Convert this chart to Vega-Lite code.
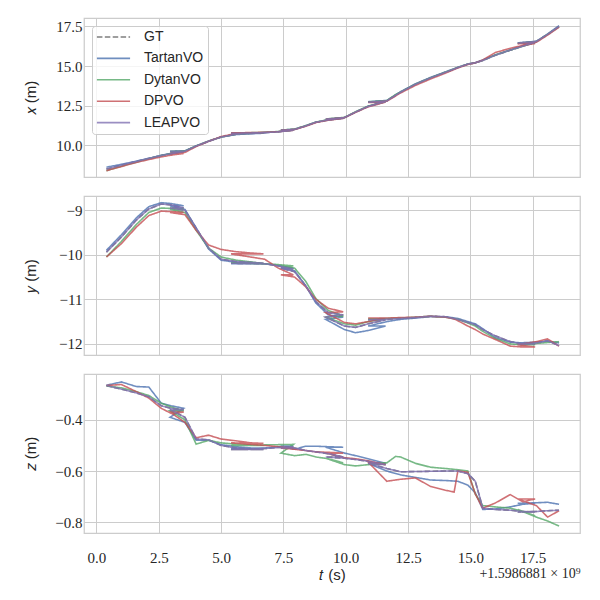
{
  "$schema": "https://vega.github.io/schema/vega-lite/v6.json",
  "padding": {"left": 22, "top": 17, "right": 5, "bottom": 5},
  "background": "white",
  "data": {
    "values": [
      {"m":"GT","t":0.4,"x":8.5,"y":-9.94,"z":-0.266},
      {"m":"GT","t":1.0,"x":8.75,"y":-9.6,"z":-0.28},
      {"m":"GT","t":1.6,"x":8.98,"y":-9.22,"z":-0.295},
      {"m":"GT","t":2.1,"x":9.17,"y":-8.97,"z":-0.31},
      {"m":"GT","t":2.6,"x":9.35,"y":-8.86,"z":-0.345},
      {"m":"GT","t":3.0,"x":9.47,"y":-8.88,"z":-0.355},
      {"m":"GT","t":3.5,"x":9.6,"y":-8.95,"z":-0.36},
      {"m":"GT","t":2.95,"x":9.6,"y":-8.95,"z":-0.36},
      {"m":"GT","t":3.55,"x":9.63,"y":-9.0,"z":-0.39},
      {"m":"GT","t":4.0,"x":9.95,"y":-9.4,"z":-0.475},
      {"m":"GT","t":4.5,"x":10.25,"y":-9.85,"z":-0.478},
      {"m":"GT","t":5.0,"x":10.52,"y":-10.1,"z":-0.5},
      {"m":"GT","t":5.6,"x":10.7,"y":-10.15,"z":-0.51},
      {"m":"GT","t":6.2,"x":10.75,"y":-10.17,"z":-0.514},
      {"m":"GT","t":6.7,"x":10.78,"y":-10.19,"z":-0.516},
      {"m":"GT","t":5.4,"x":10.75,"y":-10.19,"z":-0.516},
      {"m":"GT","t":6.75,"x":10.8,"y":-10.2,"z":-0.512},
      {"m":"GT","t":7.3,"x":10.85,"y":-10.25,"z":-0.508},
      {"m":"GT","t":7.9,"x":10.95,"y":-10.32,"z":-0.505},
      {"m":"GT","t":7.4,"x":10.95,"y":-10.3,"z":-0.51},
      {"m":"GT","t":7.95,"x":11.0,"y":-10.38,"z":-0.51},
      {"m":"GT","t":8.4,"x":11.22,"y":-10.7,"z":-0.52},
      {"m":"GT","t":8.8,"x":11.45,"y":-11.05,"z":-0.525},
      {"m":"GT","t":9.3,"x":11.6,"y":-11.3,"z":-0.532},
      {"m":"GT","t":9.9,"x":11.72,"y":-11.35,"z":-0.545},
      {"m":"GT","t":9.2,"x":11.65,"y":-11.4,"z":-0.545},
      {"m":"GT","t":9.95,"x":11.75,"y":-11.6,"z":-0.55},
      {"m":"GT","t":10.4,"x":12.1,"y":-11.63,"z":-0.555},
      {"m":"GT","t":10.9,"x":12.45,"y":-11.55,"z":-0.562},
      {"m":"GT","t":11.6,"x":12.75,"y":-11.46,"z":-0.575},
      {"m":"GT","t":10.9,"x":12.72,"y":-11.46,"z":-0.57},
      {"m":"GT","t":11.65,"x":12.8,"y":-11.45,"z":-0.59},
      {"m":"GT","t":12.2,"x":13.35,"y":-11.43,"z":-0.603},
      {"m":"GT","t":12.8,"x":13.85,"y":-11.41,"z":-0.602},
      {"m":"GT","t":13.4,"x":14.25,"y":-11.38,"z":-0.601},
      {"m":"GT","t":14.0,"x":14.6,"y":-11.39,"z":-0.6},
      {"m":"GT","t":14.5,"x":14.9,"y":-11.45,"z":-0.6},
      {"m":"GT","t":14.9,"x":15.12,"y":-11.52,"z":-0.61},
      {"m":"GT","t":15.2,"x":15.2,"y":-11.57,"z":-0.64},
      {"m":"GT","t":15.5,"x":15.35,"y":-11.68,"z":-0.745},
      {"m":"GT","t":16.0,"x":15.68,"y":-11.82,"z":-0.75},
      {"m":"GT","t":16.6,"x":16.0,"y":-11.95,"z":-0.753},
      {"m":"GT","t":17.1,"x":16.25,"y":-12.0,"z":-0.758},
      {"m":"GT","t":17.6,"x":16.5,"y":-12.0,"z":-0.76},
      {"m":"GT","t":16.9,"x":16.45,"y":-12.0,"z":-0.76},
      {"m":"GT","t":17.65,"x":16.55,"y":-11.98,"z":-0.758},
      {"m":"GT","t":18.1,"x":17.0,"y":-11.93,"z":-0.755},
      {"m":"GT","t":18.56,"x":17.5,"y":-12.04,"z":-0.753},

      {"m":"TartanVO","t":0.4,"x":8.62,"y":-9.9,"z":-0.265},
      {"m":"TartanVO","t":1.0,"x":8.8,"y":-9.55,"z":-0.252},
      {"m":"TartanVO","t":1.6,"x":9.0,"y":-9.17,"z":-0.27},
      {"m":"TartanVO","t":2.1,"x":9.18,"y":-8.92,"z":-0.272},
      {"m":"TartanVO","t":2.6,"x":9.37,"y":-8.83,"z":-0.335},
      {"m":"TartanVO","t":3.0,"x":9.5,"y":-8.85,"z":-0.345},
      {"m":"TartanVO","t":3.5,"x":9.62,"y":-8.9,"z":-0.355},
      {"m":"TartanVO","t":2.95,"x":9.62,"y":-8.9,"z":-0.39},
      {"m":"TartanVO","t":3.55,"x":9.65,"y":-8.98,"z":-0.41},
      {"m":"TartanVO","t":4.0,"x":9.97,"y":-9.4,"z":-0.48},
      {"m":"TartanVO","t":4.5,"x":10.27,"y":-9.87,"z":-0.48},
      {"m":"TartanVO","t":5.0,"x":10.52,"y":-10.12,"z":-0.497},
      {"m":"TartanVO","t":5.6,"x":10.68,"y":-10.17,"z":-0.505},
      {"m":"TartanVO","t":6.2,"x":10.73,"y":-10.18,"z":-0.51},
      {"m":"TartanVO","t":6.7,"x":10.76,"y":-10.2,"z":-0.512},
      {"m":"TartanVO","t":5.4,"x":10.73,"y":-10.2,"z":-0.512},
      {"m":"TartanVO","t":6.75,"x":10.8,"y":-10.2,"z":-0.51},
      {"m":"TartanVO","t":7.3,"x":10.86,"y":-10.24,"z":-0.505},
      {"m":"TartanVO","t":7.9,"x":10.96,"y":-10.3,"z":-0.502},
      {"m":"TartanVO","t":7.4,"x":10.96,"y":-10.3,"z":-0.502},
      {"m":"TartanVO","t":7.95,"x":11.02,"y":-10.36,"z":-0.515},
      {"m":"TartanVO","t":8.4,"x":11.24,"y":-10.7,"z":-0.503},
      {"m":"TartanVO","t":8.8,"x":11.46,"y":-11.08,"z":-0.503},
      {"m":"TartanVO","t":9.3,"x":11.6,"y":-11.35,"z":-0.505},
      {"m":"TartanVO","t":9.9,"x":11.7,"y":-11.4,"z":-0.507},
      {"m":"TartanVO","t":9.2,"x":11.62,"y":-11.45,"z":-0.507},
      {"m":"TartanVO","t":9.95,"x":11.74,"y":-11.68,"z":-0.53},
      {"m":"TartanVO","t":10.4,"x":12.1,"y":-11.75,"z":-0.54},
      {"m":"TartanVO","t":10.9,"x":12.47,"y":-11.7,"z":-0.552},
      {"m":"TartanVO","t":11.6,"x":12.78,"y":-11.6,"z":-0.57},
      {"m":"TartanVO","t":10.9,"x":12.75,"y":-11.6,"z":-0.57},
      {"m":"TartanVO","t":11.65,"x":12.83,"y":-11.5,"z":-0.6},
      {"m":"TartanVO","t":12.2,"x":13.38,"y":-11.45,"z":-0.615},
      {"m":"TartanVO","t":12.8,"x":13.88,"y":-11.42,"z":-0.625},
      {"m":"TartanVO","t":13.4,"x":14.28,"y":-11.39,"z":-0.635},
      {"m":"TartanVO","t":14.0,"x":14.63,"y":-11.39,"z":-0.637},
      {"m":"TartanVO","t":14.5,"x":14.92,"y":-11.43,"z":-0.64},
      {"m":"TartanVO","t":14.9,"x":15.13,"y":-11.5,"z":-0.655},
      {"m":"TartanVO","t":15.2,"x":15.22,"y":-11.55,"z":-0.685},
      {"m":"TartanVO","t":15.5,"x":15.38,"y":-11.66,"z":-0.75},
      {"m":"TartanVO","t":16.0,"x":15.7,"y":-11.86,"z":-0.748},
      {"m":"TartanVO","t":16.6,"x":16.02,"y":-11.96,"z":-0.74},
      {"m":"TartanVO","t":17.1,"x":16.27,"y":-11.98,"z":-0.73},
      {"m":"TartanVO","t":17.6,"x":16.5,"y":-11.98,"z":-0.726},
      {"m":"TartanVO","t":16.9,"x":16.46,"y":-11.98,"z":-0.726},
      {"m":"TartanVO","t":17.65,"x":16.56,"y":-11.96,"z":-0.724},
      {"m":"TartanVO","t":18.1,"x":17.02,"y":-11.94,"z":-0.722},
      {"m":"TartanVO","t":18.56,"x":17.55,"y":-11.98,"z":-0.73},

      {"m":"DytanVO","t":0.4,"x":8.4,"y":-10.05,"z":-0.268},
      {"m":"DytanVO","t":1.0,"x":8.68,"y":-9.7,"z":-0.275},
      {"m":"DytanVO","t":1.6,"x":8.94,"y":-9.32,"z":-0.29},
      {"m":"DytanVO","t":2.1,"x":9.15,"y":-9.05,"z":-0.305},
      {"m":"DytanVO","t":2.6,"x":9.35,"y":-8.95,"z":-0.335},
      {"m":"DytanVO","t":3.0,"x":9.48,"y":-8.96,"z":-0.35},
      {"m":"DytanVO","t":3.5,"x":9.6,"y":-8.98,"z":-0.365},
      {"m":"DytanVO","t":2.95,"x":9.6,"y":-8.98,"z":-0.365},
      {"m":"DytanVO","t":3.55,"x":9.64,"y":-9.05,"z":-0.4},
      {"m":"DytanVO","t":4.0,"x":9.96,"y":-9.45,"z":-0.495},
      {"m":"DytanVO","t":4.5,"x":10.26,"y":-9.85,"z":-0.48},
      {"m":"DytanVO","t":5.0,"x":10.52,"y":-10.05,"z":-0.49},
      {"m":"DytanVO","t":5.6,"x":10.7,"y":-10.12,"z":-0.495},
      {"m":"DytanVO","t":6.2,"x":10.76,"y":-10.16,"z":-0.498},
      {"m":"DytanVO","t":6.7,"x":10.78,"y":-10.2,"z":-0.5},
      {"m":"DytanVO","t":5.4,"x":10.76,"y":-10.18,"z":-0.5},
      {"m":"DytanVO","t":6.75,"x":10.82,"y":-10.2,"z":-0.498},
      {"m":"DytanVO","t":7.3,"x":10.87,"y":-10.22,"z":-0.497},
      {"m":"DytanVO","t":7.9,"x":10.96,"y":-10.25,"z":-0.496},
      {"m":"DytanVO","t":7.4,"x":10.96,"y":-10.25,"z":-0.53},
      {"m":"DytanVO","t":7.95,"x":11.02,"y":-10.3,"z":-0.54},
      {"m":"DytanVO","t":8.4,"x":11.24,"y":-10.6,"z":-0.535},
      {"m":"DytanVO","t":8.8,"x":11.46,"y":-10.98,"z":-0.545},
      {"m":"DytanVO","t":9.3,"x":11.62,"y":-11.25,"z":-0.552},
      {"m":"DytanVO","t":9.9,"x":11.72,"y":-11.38,"z":-0.568},
      {"m":"DytanVO","t":9.2,"x":11.66,"y":-11.4,"z":-0.55},
      {"m":"DytanVO","t":9.95,"x":11.76,"y":-11.55,"z":-0.575},
      {"m":"DytanVO","t":10.4,"x":12.12,"y":-11.58,"z":-0.58},
      {"m":"DytanVO","t":10.9,"x":12.47,"y":-11.5,"z":-0.575},
      {"m":"DytanVO","t":11.6,"x":12.76,"y":-11.44,"z":-0.57},
      {"m":"DytanVO","t":10.9,"x":12.74,"y":-11.44,"z":-0.57},
      {"m":"DytanVO","t":11.65,"x":12.82,"y":-11.43,"z":-0.568},
      {"m":"DytanVO","t":12.0,"x":13.2,"y":-11.42,"z":-0.543},
      {"m":"DytanVO","t":12.2,"x":13.36,"y":-11.42,"z":-0.545},
      {"m":"DytanVO","t":12.8,"x":13.86,"y":-11.4,"z":-0.57},
      {"m":"DytanVO","t":13.4,"x":14.26,"y":-11.38,"z":-0.585},
      {"m":"DytanVO","t":14.0,"x":14.61,"y":-11.4,"z":-0.59},
      {"m":"DytanVO","t":14.5,"x":14.91,"y":-11.45,"z":-0.595},
      {"m":"DytanVO","t":14.9,"x":15.12,"y":-11.53,"z":-0.6},
      {"m":"DytanVO","t":15.2,"x":15.2,"y":-11.6,"z":-0.69},
      {"m":"DytanVO","t":15.5,"x":15.36,"y":-11.72,"z":-0.735},
      {"m":"DytanVO","t":16.0,"x":15.7,"y":-11.88,"z":-0.74},
      {"m":"DytanVO","t":16.6,"x":16.0,"y":-12.0,"z":-0.745},
      {"m":"DytanVO","t":17.1,"x":16.25,"y":-12.02,"z":-0.758},
      {"m":"DytanVO","t":17.6,"x":16.48,"y":-12.02,"z":-0.775},
      {"m":"DytanVO","t":16.9,"x":16.44,"y":-12.0,"z":-0.75},
      {"m":"DytanVO","t":17.65,"x":16.54,"y":-11.99,"z":-0.78},
      {"m":"DytanVO","t":18.1,"x":17.0,"y":-11.97,"z":-0.795},
      {"m":"DytanVO","t":18.56,"x":17.48,"y":-11.95,"z":-0.815},

      {"m":"DPVO","t":0.4,"x":8.4,"y":-10.05,"z":-0.266},
      {"m":"DPVO","t":1.0,"x":8.66,"y":-9.75,"z":-0.262},
      {"m":"DPVO","t":1.6,"x":8.92,"y":-9.38,"z":-0.29},
      {"m":"DPVO","t":2.1,"x":9.1,"y":-9.12,"z":-0.315},
      {"m":"DPVO","t":2.6,"x":9.27,"y":-9.02,"z":-0.355},
      {"m":"DPVO","t":3.0,"x":9.38,"y":-9.03,"z":-0.375},
      {"m":"DPVO","t":3.5,"x":9.48,"y":-9.05,"z":-0.37},
      {"m":"DPVO","t":2.95,"x":9.48,"y":-9.05,"z":-0.37},
      {"m":"DPVO","t":3.55,"x":9.55,"y":-9.1,"z":-0.41},
      {"m":"DPVO","t":4.0,"x":9.92,"y":-9.45,"z":-0.47},
      {"m":"DPVO","t":4.5,"x":10.25,"y":-9.78,"z":-0.46},
      {"m":"DPVO","t":5.0,"x":10.55,"y":-9.88,"z":-0.475},
      {"m":"DPVO","t":5.6,"x":10.75,"y":-9.93,"z":-0.482},
      {"m":"DPVO","t":6.2,"x":10.8,"y":-9.96,"z":-0.49},
      {"m":"DPVO","t":6.7,"x":10.8,"y":-9.98,"z":-0.492},
      {"m":"DPVO","t":5.4,"x":10.78,"y":-9.98,"z":-0.49},
      {"m":"DPVO","t":6.75,"x":10.82,"y":-10.1,"z":-0.5},
      {"m":"DPVO","t":7.3,"x":10.86,"y":-10.3,"z":-0.505},
      {"m":"DPVO","t":7.9,"x":10.95,"y":-10.45,"z":-0.51},
      {"m":"DPVO","t":7.4,"x":10.95,"y":-10.45,"z":-0.51},
      {"m":"DPVO","t":7.95,"x":11.0,"y":-10.5,"z":-0.515},
      {"m":"DPVO","t":8.4,"x":11.2,"y":-10.72,"z":-0.52},
      {"m":"DPVO","t":8.8,"x":11.43,"y":-11.0,"z":-0.525},
      {"m":"DPVO","t":9.3,"x":11.58,"y":-11.2,"z":-0.527},
      {"m":"DPVO","t":9.9,"x":11.7,"y":-11.28,"z":-0.53},
      {"m":"DPVO","t":9.2,"x":11.64,"y":-11.3,"z":-0.53},
      {"m":"DPVO","t":9.95,"x":11.74,"y":-11.52,"z":-0.548},
      {"m":"DPVO","t":10.4,"x":12.08,"y":-11.55,"z":-0.552},
      {"m":"DPVO","t":10.9,"x":12.43,"y":-11.5,"z":-0.56},
      {"m":"DPVO","t":11.6,"x":12.72,"y":-11.42,"z":-0.575},
      {"m":"DPVO","t":10.9,"x":12.7,"y":-11.42,"z":-0.565},
      {"m":"DPVO","t":11.65,"x":12.78,"y":-11.42,"z":-0.64},
      {"m":"DPVO","t":12.2,"x":13.3,"y":-11.41,"z":-0.632},
      {"m":"DPVO","t":12.8,"x":13.78,"y":-11.4,"z":-0.627},
      {"m":"DPVO","t":13.4,"x":14.18,"y":-11.38,"z":-0.66},
      {"m":"DPVO","t":14.0,"x":14.55,"y":-11.4,"z":-0.675},
      {"m":"DPVO","t":14.35,"x":14.78,"y":-11.44,"z":-0.682},
      {"m":"DPVO","t":14.5,"x":14.88,"y":-11.48,"z":-0.6},
      {"m":"DPVO","t":14.9,"x":15.1,"y":-11.6,"z":-0.605},
      {"m":"DPVO","t":15.2,"x":15.2,"y":-11.68,"z":-0.69},
      {"m":"DPVO","t":15.5,"x":15.38,"y":-11.78,"z":-0.745},
      {"m":"DPVO","t":16.0,"x":15.85,"y":-11.9,"z":-0.725},
      {"m":"DPVO","t":16.6,"x":16.12,"y":-12.05,"z":-0.692},
      {"m":"DPVO","t":17.1,"x":16.3,"y":-12.07,"z":-0.72},
      {"m":"DPVO","t":17.6,"x":16.42,"y":-12.07,"z":-0.709},
      {"m":"DPVO","t":16.9,"x":16.4,"y":-12.02,"z":-0.709},
      {"m":"DPVO","t":17.65,"x":16.5,"y":-11.95,"z":-0.735},
      {"m":"DPVO","t":18.1,"x":16.95,"y":-11.89,"z":-0.78},
      {"m":"DPVO","t":18.56,"x":17.45,"y":-12.05,"z":-0.755},

      {"m":"LEAPVO","t":0.4,"x":8.5,"y":-9.94,"z":-0.266},
      {"m":"LEAPVO","t":1.0,"x":8.75,"y":-9.6,"z":-0.28},
      {"m":"LEAPVO","t":1.6,"x":8.98,"y":-9.22,"z":-0.295},
      {"m":"LEAPVO","t":2.1,"x":9.17,"y":-8.97,"z":-0.31},
      {"m":"LEAPVO","t":2.6,"x":9.35,"y":-8.86,"z":-0.345},
      {"m":"LEAPVO","t":3.0,"x":9.47,"y":-8.88,"z":-0.355},
      {"m":"LEAPVO","t":3.5,"x":9.6,"y":-8.95,"z":-0.36},
      {"m":"LEAPVO","t":2.95,"x":9.6,"y":-8.95,"z":-0.36},
      {"m":"LEAPVO","t":3.55,"x":9.63,"y":-9.0,"z":-0.39},
      {"m":"LEAPVO","t":4.0,"x":9.95,"y":-9.4,"z":-0.475},
      {"m":"LEAPVO","t":4.5,"x":10.25,"y":-9.85,"z":-0.478},
      {"m":"LEAPVO","t":5.0,"x":10.52,"y":-10.1,"z":-0.5},
      {"m":"LEAPVO","t":5.6,"x":10.7,"y":-10.15,"z":-0.51},
      {"m":"LEAPVO","t":6.2,"x":10.75,"y":-10.17,"z":-0.514},
      {"m":"LEAPVO","t":6.7,"x":10.78,"y":-10.19,"z":-0.516},
      {"m":"LEAPVO","t":5.4,"x":10.75,"y":-10.19,"z":-0.516},
      {"m":"LEAPVO","t":6.75,"x":10.8,"y":-10.2,"z":-0.512},
      {"m":"LEAPVO","t":7.3,"x":10.85,"y":-10.25,"z":-0.508},
      {"m":"LEAPVO","t":7.9,"x":10.95,"y":-10.32,"z":-0.505},
      {"m":"LEAPVO","t":7.4,"x":10.95,"y":-10.3,"z":-0.51},
      {"m":"LEAPVO","t":7.95,"x":11.0,"y":-10.38,"z":-0.51},
      {"m":"LEAPVO","t":8.4,"x":11.22,"y":-10.7,"z":-0.52},
      {"m":"LEAPVO","t":8.8,"x":11.45,"y":-11.05,"z":-0.525},
      {"m":"LEAPVO","t":9.3,"x":11.6,"y":-11.3,"z":-0.532},
      {"m":"LEAPVO","t":9.9,"x":11.72,"y":-11.35,"z":-0.545},
      {"m":"LEAPVO","t":9.2,"x":11.65,"y":-11.4,"z":-0.545},
      {"m":"LEAPVO","t":9.95,"x":11.75,"y":-11.6,"z":-0.55},
      {"m":"LEAPVO","t":10.4,"x":12.1,"y":-11.63,"z":-0.555},
      {"m":"LEAPVO","t":10.9,"x":12.45,"y":-11.55,"z":-0.562},
      {"m":"LEAPVO","t":11.6,"x":12.75,"y":-11.46,"z":-0.575},
      {"m":"LEAPVO","t":10.9,"x":12.72,"y":-11.46,"z":-0.57},
      {"m":"LEAPVO","t":11.65,"x":12.8,"y":-11.45,"z":-0.59},
      {"m":"LEAPVO","t":12.2,"x":13.35,"y":-11.43,"z":-0.603},
      {"m":"LEAPVO","t":12.8,"x":13.85,"y":-11.41,"z":-0.602},
      {"m":"LEAPVO","t":13.4,"x":14.25,"y":-11.38,"z":-0.601},
      {"m":"LEAPVO","t":14.0,"x":14.6,"y":-11.39,"z":-0.6},
      {"m":"LEAPVO","t":14.5,"x":14.9,"y":-11.45,"z":-0.6},
      {"m":"LEAPVO","t":14.9,"x":15.12,"y":-11.52,"z":-0.61},
      {"m":"LEAPVO","t":15.2,"x":15.2,"y":-11.57,"z":-0.64},
      {"m":"LEAPVO","t":15.5,"x":15.35,"y":-11.68,"z":-0.745},
      {"m":"LEAPVO","t":16.0,"x":15.68,"y":-11.82,"z":-0.75},
      {"m":"LEAPVO","t":16.6,"x":16.0,"y":-11.95,"z":-0.753},
      {"m":"LEAPVO","t":17.1,"x":16.25,"y":-12.0,"z":-0.758},
      {"m":"LEAPVO","t":17.6,"x":16.5,"y":-12.0,"z":-0.76},
      {"m":"LEAPVO","t":16.9,"x":16.45,"y":-12.0,"z":-0.76},
      {"m":"LEAPVO","t":17.65,"x":16.55,"y":-11.98,"z":-0.758},
      {"m":"LEAPVO","t":18.1,"x":17.0,"y":-11.93,"z":-0.755},
      {"m":"LEAPVO","t":18.56,"x":17.5,"y":-12.04,"z":-0.753}
    ]
  },
  "title": {
    "text": "+1.5986881 × 10⁹",
    "orient": "bottom",
    "anchor": "end",
    "offset": -16,
    "font": "Liberation Serif",
    "fontSize": 14,
    "fontWeight": "normal",
    "color": "#262626"
  },
  "spacing": 17,
  "resolve": {"legend": {"color": "independent", "strokeDash": "independent"}},
  "vconcat": [
    {
      "width": 496,
      "height": 159,
      "mark": {"type": "line"},
      "encoding": {
        "x": {
          "field": "t", "type": "quantitative",
          "scale": {"domain": [-0.5, 19.4], "nice": false, "zero": false},
          "axis": {"values": [0, 2.5, 5, 7.5, 10, 12.5, 15, 17.5], "labels": false, "title": null, "labelPadding": 0, "minExtent": 0, "maxExtent": 0}
        },
        "y": {
          "field": "x", "type": "quantitative",
          "scale": {"domain": [8.0, 18.03], "nice": false, "zero": false},
          "axis": {"values": [10, 12.5, 15, 17.5], "format": ".1f", "title": "𝑥 (m)"}
        },
        "color": {
          "field": "m", "type": "nominal",
          "scale": {"domain": ["GT", "TartanVO", "DytanVO", "DPVO", "LEAPVO"], "range": ["#606060", "#4c72b0", "#55a868", "#c44e52", "#8172b3"]},
          "legend": {"title": null}
        },
        "strokeDash": {
          "field": "m", "type": "nominal",
          "scale": {"domain": ["GT", "TartanVO", "DytanVO", "DPVO", "LEAPVO"], "range": [[5.5, 2.4], [1, 0], [1, 0], [1, 0], [1, 0]]},
          "legend": {"title": null}
        },
        "order": {"value": null}
      }
    },
    {
      "width": 496,
      "height": 159,
      "mark": {"type": "line"},
      "encoding": {
        "x": {
          "field": "t", "type": "quantitative",
          "scale": {"domain": [-0.5, 19.4], "nice": false, "zero": false},
          "axis": {"values": [0, 2.5, 5, 7.5, 10, 12.5, 15, 17.5], "labels": false, "title": null, "labelPadding": 0, "minExtent": 0, "maxExtent": 0}
        },
        "y": {
          "field": "y", "type": "quantitative",
          "scale": {"domain": [-12.25, -8.68], "nice": false, "zero": false},
          "axis": {"values": [-12, -11, -10, -9], "format": "d", "title": "𝑦 (m)"}
        },
        "color": {
          "field": "m", "type": "nominal",
          "scale": {"domain": ["GT", "TartanVO", "DytanVO", "DPVO", "LEAPVO"], "range": ["#606060", "#4c72b0", "#55a868", "#c44e52", "#8172b3"]},
          "legend": null
        },
        "strokeDash": {
          "field": "m", "type": "nominal",
          "scale": {"domain": ["GT", "TartanVO", "DytanVO", "DPVO", "LEAPVO"], "range": [[5.5, 2.4], [1, 0], [1, 0], [1, 0], [1, 0]]},
          "legend": null
        },
        "order": {"value": null}
      }
    },
    {
      "width": 496,
      "height": 159,
      "mark": {"type": "line"},
      "encoding": {
        "x": {
          "field": "t", "type": "quantitative",
          "scale": {"domain": [-0.5, 19.4], "nice": false, "zero": false},
          "axis": {"values": [0, 2.5, 5, 7.5, 10, 12.5, 15, 17.5], "format": ".1f", "title": "𝑡 (s)"}
        },
        "y": {
          "field": "z", "type": "quantitative",
          "scale": {"domain": [-0.842, -0.221], "nice": false, "zero": false},
          "axis": {"values": [-0.8, -0.6, -0.4], "format": ".1f", "title": "𝑧 (m)"}
        },
        "color": {
          "field": "m", "type": "nominal",
          "scale": {"domain": ["GT", "TartanVO", "DytanVO", "DPVO", "LEAPVO"], "range": ["#606060", "#4c72b0", "#55a868", "#c44e52", "#8172b3"]},
          "legend": null
        },
        "strokeDash": {
          "field": "m", "type": "nominal",
          "scale": {"domain": ["GT", "TartanVO", "DytanVO", "DPVO", "LEAPVO"], "range": [[5.5, 2.4], [1, 0], [1, 0], [1, 0], [1, 0]]},
          "legend": null
        },
        "order": {"value": null}
      }
    }
  ],
  "config": {
    "view": {"stroke": "#cccccc", "strokeWidth": 1.25},
    "line": {"strokeWidth": 1.6, "opacity": 0.8},
    "axis": {
      "grid": true, "gridColor": "#cccccc", "gridWidth": 1,
      "domain": false, "ticks": false, "tickSize": 0,
      "labelFont": "Liberation Serif", "labelFontSize": 15, "labelColor": "#262626",
      "titleFont": "Liberation Sans", "titleFontSize": 15, "titleFontWeight": "normal", "titleColor": "#262626"
    },
    "axisY": {"labelPadding": 2, "minExtent": 35, "maxExtent": 35, "titlePadding": 11},
    "axisX": {"labelPadding": 17, "titlePadding": 2},
    "legend": {
      "orient": "top-left", "offset": 8, "padding": 4,
      "fillColor": "rgba(255,255,255,0.8)", "strokeColor": "#cccccc", "cornerRadius": 3,
      "symbolType": "stroke", "symbolSize": 1100, "symbolStrokeWidth": 1.6, "symbolOpacity": 0.8,
      "clipHeight": 14,
      "labelFont": "Liberation Sans", "labelFontSize": 14, "labelColor": "#262626",
      "labelOffset": 13, "rowPadding": 7.4
    }
  }
}
